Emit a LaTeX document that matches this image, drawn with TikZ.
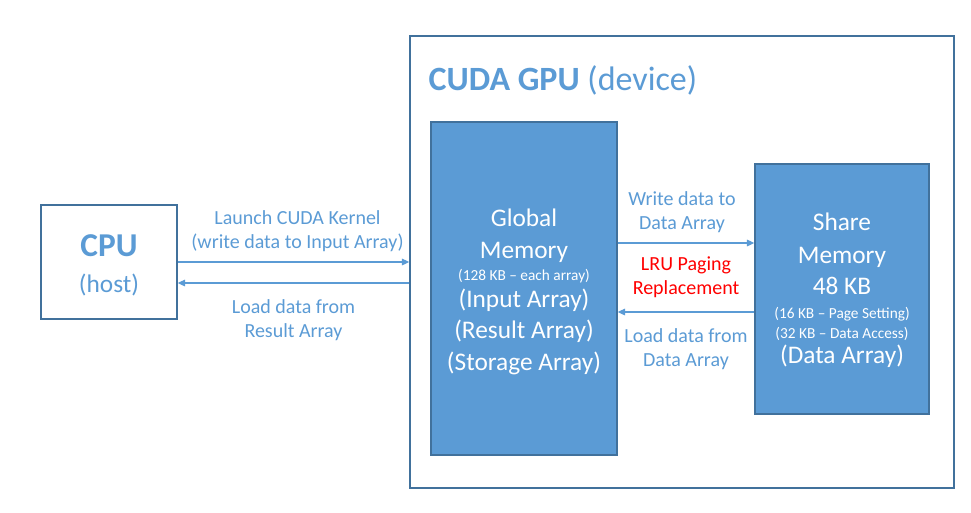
\documentclass[tikz,border=0pt]{standalone}
\usepackage{fontspec}
\setmainfont{Carlito}
\usetikzlibrary{arrows.meta}
\definecolor{officeblue}{HTML}{5B9BD5}
\definecolor{officeline}{HTML}{41719C}

\begin{document}
\begin{tikzpicture}[x=0.75pt,y=-0.75pt,
frame/.style={
	rectangle,draw=officeline,line width=1.1pt,fill=white,
	text=officeblue,align=center},
memory/.style={
	rectangle,draw=officeline,line width=1.1pt,fill=officeblue,
	text=white,align=center,font=\fontsize{19}{23}\selectfont},
link/.style={officeblue,line width=0.8pt,-{Triangle[length=5.5pt,width=5pt]}},
label/.style={text=officeblue,align=center,font=\fontsize{15}{18}\selectfont},
]
\useasboundingbox (0,0) rectangle (971,512);
% device frame
\node[frame,minimum width=408pt,minimum height=339pt] (gpu) at (682,262) {};
\node[anchor=west,text=officeblue,font=\fontsize{25.5}{30}\selectfont] (title) at (424,80)
{\textbf{CUDA GPU} (device)};
% memories
\node[memory,minimum width=139.5pt,minimum height=249.75pt] (global) at (524,288.5)
{\rule{0pt}{17.5pt}Global\\[1pt]Memory\\[-6pt]{\fontsize{11.5}{14}\selectfont (128 KB -- each array)}\\[-3pt]
(Input Array)\\(Result Array)\\[1pt](Storage Array)};
\node[memory,minimum width=130.5pt,minimum height=187.5pt] (share) at (842,289)
{\rule{0pt}{15.5pt}Share\\[2pt]Memory\\48 KB\\[-5pt]{\fontsize{11.5}{14}\selectfont (16 KB -- Page Setting)}\\[-8pt]
{\fontsize{11.5}{14}\selectfont (32 KB -- Data Access)}\\[-4pt](Data Array)};
% host
\node[frame,minimum width=102pt,minimum height=85.5pt,font=\fontsize{19}{23}\selectfont] (cpu) at (109,262)
{\rule{0pt}{21pt}{\fontsize{25}{28}\selectfont\textbf{CPU}}\\[4pt](host)};
% connectors
\draw[link] (cpu.east) -- (cpu.east -| gpu.west)
node[label,midway,xshift=3pt,yshift=23.5pt]{Launch CUDA Kernel\\(write data to Input Array)};
\draw[link] ([yshift=-15.75pt]cpu.east -| gpu.west) -- ([yshift=-15.75pt]cpu.east)
node[label,midway,yshift=-27.5pt]{Load data from\\Result Array};
\draw[link] ([yshift=34.125pt]global.east) -- ([yshift=34.125pt]global.east -| share.west)
node[label,midway,xshift=-3pt,yshift=23.5pt]{Write data to\\Data Array}
node[label,midway,text=red,yshift=-26pt]{LRU Paging\\Replacement};
\draw[link] ([yshift=-17.625pt]global.east -| share.west) -- ([yshift=-17.625pt]global.east)
node[label,midway,yshift=-28pt]{Load data from\\Data Array};
\end{tikzpicture}
\end{document}
